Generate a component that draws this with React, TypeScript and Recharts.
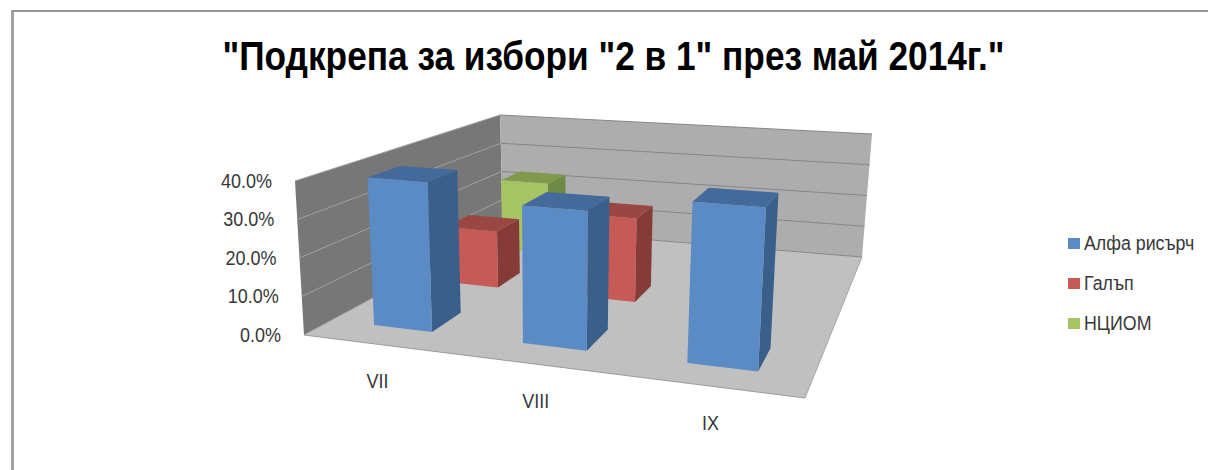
import { BarChart, Bar, XAxis, YAxis, Legend, usePlotArea } from 'recharts'

const categories = ['VII', 'VIII', 'IX']
const alfa = [39.3, 35.2, 39.5]
const galup = [16.5, 23.8, null]
const nciom = [22.8, null, null]
const yTicks = [0, 10, 20, 30, 40]
const title = '"Подкрепа за избори "2 в 1" през май 2014г."'

const fontFamily = '"Liberation Sans", Arial, sans-serif'
const textColor = '#383838'

// back to front, so the nearest series paints last
const seriesList = [
    { name: 'НЦИОМ', values: nciom, depth: 2, front: '#a6c464', top: '#7f9a4c', side: '#6f8a45' },
    { name: 'Галъп', values: galup, depth: 1, front: '#c55a56', top: '#9a4744', side: '#853c39' },
    { name: 'Алфа рисърч', values: alfa, depth: 0, front: '#5b8bc4', top: '#44699b', side: '#3a5f8b' },
]
const legendItems = [seriesList[2], seriesList[1], seriesList[0]]

const data = categories.map((category, i) => ({
    category,
    alfa: alfa[i],
    galup: galup[i],
    nciom: nciom[i],
}))
const dataKeys: Record<string, string> = { 'НЦИОМ': 'nciom', 'Галъп': 'galup', 'Алфа рисърч': 'alfa' }

type Pt = [number, number]

// the 3D box of the plot as it sits on screen: front-left, front-right, back-right, back-left
const floorQuad: Pt[] = [[304, 335], [805, 398], [862, 257], [503, 228]]
const ceilQuad: Pt[] = [[295, 181], [815, 222], [872, 134], [500, 115]]

function bilinear(q: Pt[], u: number, v: number): Pt {
    const ax = q[0][0] + (q[1][0] - q[0][0]) * u
    const ay = q[0][1] + (q[1][1] - q[0][1]) * u
    const bx = q[3][0] + (q[2][0] - q[3][0]) * u
    const by = q[3][1] + (q[2][1] - q[3][1]) * u
    return [ax + (bx - ax) * v, ay + (by - ay) * v]
}

// perspective foreshortening along each floor axis
const warp = (n: number, k: number) => (n * (1 - k)) / (1 - k * n)

function project(nx: number, ny: number, nz: number): Pt {
    const u = warp(nx, 0.14)
    const v = warp(nz, -0.48)
    const a = bilinear(floorQuad, u, v)
    const b = bilinear(ceilQuad, u, v)
    return [a[0] + (b[0] - a[0]) * ny, a[1] + (b[1] - a[1]) * ny]
}

const toPoints = (pts: Pt[]) => pts.map((p) => `${p[0].toFixed(1)},${p[1].toFixed(1)}`).join(' ')

function Walls() {
    const left = toPoints([project(0, 0, 0), project(0, 1, 0), project(0, 1, 1), project(0, 0, 1)])
    const back = toPoints([project(0, 0, 1), project(0, 1, 1), project(1, 1, 1), project(1, 0, 1)])
    const floor = toPoints([project(0, 0, 0), project(1, 0, 0), project(1, 0, 1), project(0, 0, 1)])
    const yMax = yTicks[yTicks.length - 1]
    return (
        <g>
            <polygon points={left} fill="#777777" />
            <polygon points={back} fill="#adadad" />
            <polygon points={floor} fill="#c0c0c0" />
            {yTicks.map((t) => {
                const a = project(0, t / yMax, 0)
                const b = project(0, t / yMax, 1)
                const c = project(1, t / yMax, 1)
                return (
                    <g key={t}>
                        <line x1={a[0]} y1={a[1]} x2={b[0]} y2={b[1]} stroke="#a0a0a0" strokeWidth={1} />
                        <line x1={b[0]} y1={b[1]} x2={c[0]} y2={c[1]} stroke="#868686" strokeWidth={1} />
                    </g>
                )
            })}
            <line x1={project(0, 0, 0)[0]} y1={project(0, 0, 0)[1]} x2={project(1, 0, 0)[0]} y2={project(1, 0, 0)[1]} stroke="#9a9a9a" />
            <line x1={project(1, 0, 0)[0]} y1={project(1, 0, 0)[1]} x2={project(1, 0, 1)[0]} y2={project(1, 0, 1)[1]} stroke="#a6a6a6" />
        </g>
    )
}

function Box3D(props: any) {
    const plot = usePlotArea()
    const { x, y, width, height, depth, front, top, side, value } = props
    if (!plot || value == null || height == null) return null
    const x0 = (x - plot.x) / plot.width
    const x1 = (x + width - plot.x) / plot.width
    const ny = (plot.y + plot.height - y) / plot.height
    // three depth slots, same 150% gap as the width
    const z0 = (depth + 0.3) / 3
    const z1 = (depth + 0.7) / 3
    return (
        <g>
            <polygon points={toPoints([project(x1, 0, z0), project(x1, ny, z0), project(x1, ny, z1), project(x1, 0, z1)])} fill={side} />
            <polygon points={toPoints([project(x0, ny, z0), project(x1, ny, z0), project(x1, ny, z1), project(x0, ny, z1)])} fill={top} />
            <polygon points={toPoints([project(x0, 0, z0), project(x1, 0, z0), project(x1, ny, z0), project(x0, ny, z0)])} fill={front} />
        </g>
    )
}

// the reference's labels are tall and a bit condensed
function TickText({ x, y, anchor, children }: any) {
    return (
        <text transform={`translate(${x} ${y}) scale(0.9 1)`} textAnchor={anchor} dominantBaseline="central" fontSize={20} fill={textColor} fontFamily={fontFamily}>
            {children}
        </text>
    )
}

function CategoryTick(props: any) {
    const plot = usePlotArea()
    if (!plot) return null
    const p = project((props.x - plot.x) / plot.width, 0, 0)
    return <TickText x={p[0]} y={p[1] + 37} anchor="middle">{props.payload.value}</TickText>
}

function ValueTick(props: any) {
    const plot = usePlotArea()
    if (!plot) return null
    const p = project(0, (plot.y + plot.height - props.y) / plot.height, 0)
    return <TickText x={p[0] - 23} y={p[1]} anchor="end">{`${Number(props.payload.value).toFixed(1)}%`}</TickText>
}

function LegendBox() {
    return (
        <div style={{ position: 'absolute', left: 1068, top: 223, width: 130, fontFamily }}>
            {legendItems.map((s) => (
                <div key={s.name} style={{ height: 40, display: 'flex', alignItems: 'center', fontSize: 20, color: textColor, whiteSpace: 'nowrap' }}>
                    <span style={{ width: 12, height: 11, background: s.front, marginRight: 4, flex: 'none' }} />
                    <span style={{ display: 'inline-block', transform: 'scaleX(0.89)', transformOrigin: 'left center' }}>{s.name}</span>
                </div>
            ))}
        </div>
    )
}

export default function App() {
    return (
        <div style={{ position: 'absolute', left: 0, top: 0, width: 1208, height: 470, background: '#fff' }}>
            <BarChart width={1208} height={470} data={data} barCategoryGap="30%" margin={{ top: 100, right: 20, bottom: 20, left: 20 }}>
                <Walls />
                <text x={613.5} y={70} textAnchor="middle" fontSize={40} fontWeight={700} fill="#000" fontFamily={fontFamily} textLength={782} lengthAdjust="spacingAndGlyphs">
                    {title}
                </text>
                {/* one x axis per series, so the bars sit at the same x and differ only in depth */}
                <XAxis xAxisId={0} dataKey="category" axisLine={false} tickLine={false} interval={0} tick={(p: any) => <CategoryTick {...p} />} />
                <XAxis xAxisId={1} dataKey="category" hide />
                <XAxis xAxisId={2} dataKey="category" hide />
                <YAxis domain={[0, 40]} ticks={yTicks} axisLine={false} tickLine={false} interval={0} tick={(p: any) => <ValueTick {...p} />} />
                {seriesList.map((s) => (
                    <Bar
                        key={s.name}
                        name={s.name}
                        xAxisId={s.depth}
                        dataKey={dataKeys[s.name]}
                        fill={s.front}
                        isAnimationActive={false}
                        shape={(p: any) => <Box3D {...p} depth={s.depth} front={s.front} top={s.top} side={s.side} />}
                    />
                ))}
                <Legend wrapperStyle={{ left: 0, top: 0, bottom: 'auto', width: 0, height: 0 }} content={() => <LegendBox />} />
            </BarChart>
            <div style={{ position: 'absolute', left: 11, top: 10, width: 1197, height: 460, borderTop: '2px solid #969696', borderLeft: '3px solid #a0a0a0', boxSizing: 'border-box' }} />
        </div>
    )
}
